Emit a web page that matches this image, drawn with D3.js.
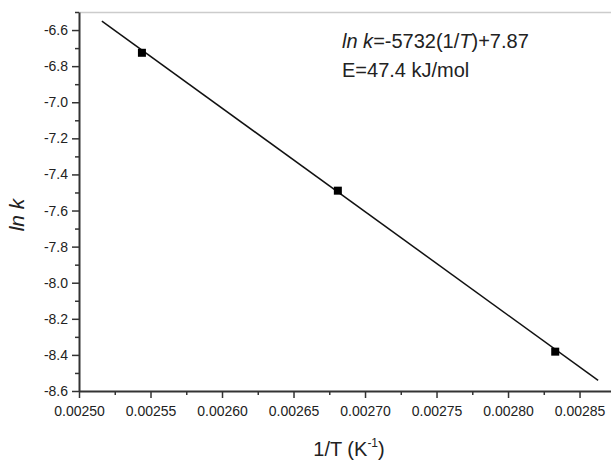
<!DOCTYPE html>
<html>
<head>
<meta charset="utf-8">
<script src="https://cdn.jsdelivr.net/npm/d3@7"></script>
<style>
  body { margin: 0; background: #fff; }
  svg text { font-family: "Liberation Sans", Arial, sans-serif; fill: #222; }
</style>
</head>
<body>
<div id="chart"></div>
<script>
// measured points, 1/T vs ln k
var invT = [0.002544, 0.002681, 0.002833];
var lnK = [-6.726, -7.49, -8.382];
// fitted line, end points
var fitX = [0.002516, 0.002863];
var fitY = [-6.551, -8.541];
var xTicks = [0.00250, 0.00255, 0.00260, 0.00265, 0.00270, 0.00275, 0.00280, 0.00285];
var yTicks = [-6.6, -6.8, -7.0, -7.2, -7.4, -7.6, -7.8, -8.0, -8.2, -8.4, -8.6];
var xMinor = [0.002525, 0.002575, 0.002625, 0.002675, 0.002725, 0.002775, 0.002825];
var yMinor = [-6.5, -6.7, -6.9, -7.1, -7.3, -7.5, -7.7, -7.9, -8.1, -8.3, -8.5];

var width = 611, height = 461;
var mLeft = 79, mTop = 12, mBottom = 391;

var svg = d3.select("#chart").append("svg")
	.attr("width", width)
	.attr("height", height);

var x = d3.scaleLinear().domain([0.0025, 0.002872]).range([mLeft, width]);
var y = d3.scaleLinear().domain([-8.6, -6.5]).range([mBottom, mTop]);

// light frame line on top
svg.append("line")
	.attr("x1", mLeft).attr("x2", width)
	.attr("y1", mTop + 0.5).attr("y2", mTop + 0.5)
	.attr("stroke", "#ccc").attr("stroke-width", 1.5);

// minor ticks first
var xMinorAxis = d3.axisBottom(x).tickValues(xMinor).tickSize(4).tickFormat("");
svg.append("g").attr("transform", "translate(0," + mBottom + ")").call(xMinorAxis)
	.call(function(g){ g.select(".domain").remove(); });
var yMinorAxis = d3.axisLeft(y).tickValues(yMinor).tickSize(4).tickFormat("");
svg.append("g").attr("transform", "translate(" + mLeft + ",0)").call(yMinorAxis)
	.call(function(g){ g.select(".domain").remove(); });

var xAxis = d3.axisBottom(x).tickValues(xTicks).tickSize(7).tickSizeOuter(0)
	.tickFormat(function(d){ return d.toFixed(5); });
var gx = svg.append("g").attr("transform", "translate(0," + mBottom + ")").call(xAxis);
gx.selectAll("text").attr("font-size", 14).attr("y", 25).attr("dy", 0);

var yAxis = d3.axisLeft(y).tickValues(yTicks).tickSize(7).tickSizeOuter(0)
	.tickFormat(function(d){ return d.toFixed(1); });
var gy = svg.append("g").attr("transform", "translate(" + mLeft + ",0)").call(yAxis);
gy.selectAll("text").attr("font-size", 14).attr("x", -11);

svg.selectAll(".domain").attr("stroke", "#333").attr("stroke-width", 2);
svg.selectAll(".tick line").attr("stroke", "#333").attr("stroke-width", 1.5);

// fit line
var line = d3.line().x(function(d){ return x(d[0]); }).y(function(d){ return y(d[1]); });
svg.append("path")
	.datum(d3.zip(fitX, fitY))
	.attr("d", line)
	.attr("fill", "none")
	.attr("stroke", "#111")
	.attr("stroke-width", 1.5);

// points
var s = 8;
svg.selectAll("rect.pt")
	.data(d3.zip(invT, lnK))
	.enter().append("rect")
	.attr("class", "pt")
	.attr("x", function(d){ return x(d[0]) - s/2; })
	.attr("y", function(d){ return y(d[1]) - s/2; })
	.attr("width", s).attr("height", s)
	.attr("fill", "#000");

// annotation
var t1 = svg.append("text").attr("x", 342).attr("y", 48).attr("font-size", 20);
t1.append("tspan").attr("font-style", "italic").text("ln k");
t1.append("tspan").text("=-5732(1/");
t1.append("tspan").attr("font-style", "italic").text("T");
t1.append("tspan").text(")+7.87");
svg.append("text").attr("x", 342).attr("y", 77).attr("font-size", 20).text("E=47.4 kJ/mol");

// axis titles
svg.append("text")
	.attr("transform", "translate(24,215) rotate(-90)")
	.attr("text-anchor", "middle")
	.attr("font-size", 21)
	.attr("font-style", "italic")
	.text("ln k");

var xt = svg.append("text").attr("x", 349).attr("y", 456)
	.attr("text-anchor", "middle").attr("font-size", 20);
xt.append("tspan").text("1/T (K");
xt.append("tspan").attr("font-size", 12).attr("dy", -9).text("-1");
xt.append("tspan").attr("dy", 9).text(")");
</script>
</body>
</html>
